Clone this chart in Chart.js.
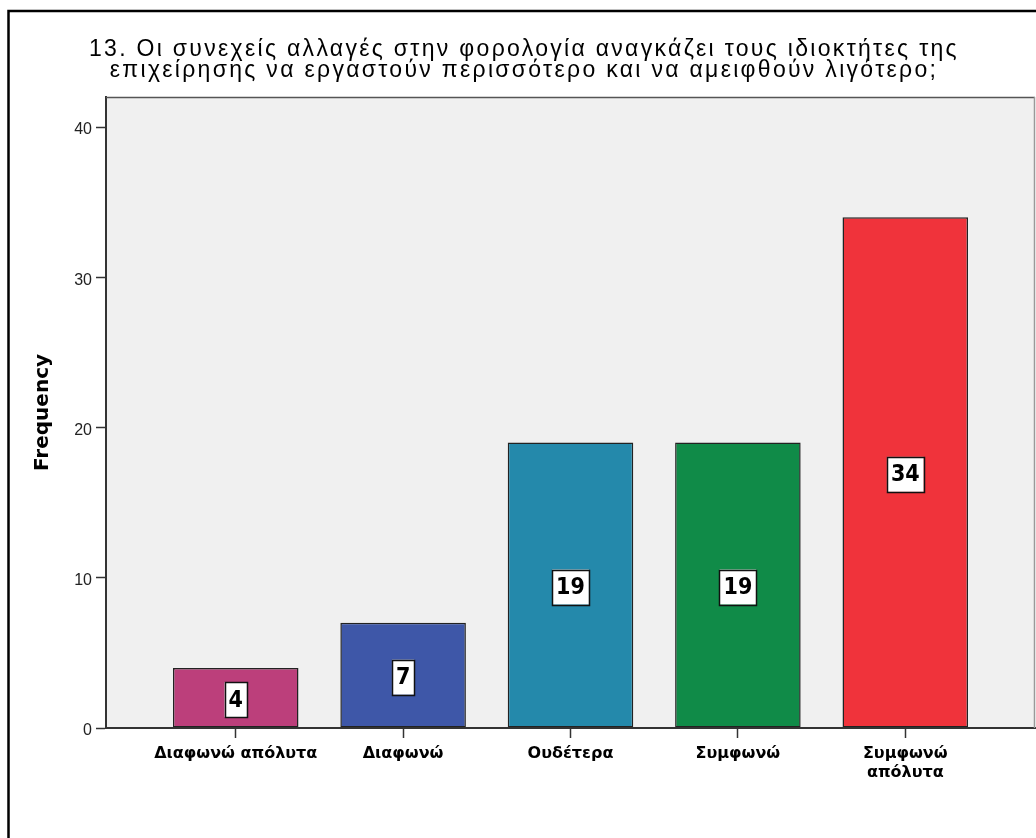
<!DOCTYPE html>
<html lang="el">
<head>
<meta charset="utf-8">
<title>Frequency</title>
<script src="https://cdn.jsdelivr.net/npm/chart.js@4.4.1/dist/chart.umd.min.js"></script>
<style>
  html, body { margin: 0; padding: 0; background: #fff; }
  #wrap { width: 1036px; height: 838px; }
</style>
</head>
<body>
<div id="wrap"><canvas id="freqChart" width="1036" height="838"></canvas></div>
<script>
// κατηγορίες απαντήσεων και συχνότητες
const categories = ['Διαφωνώ απόλυτα', 'Διαφωνώ', 'Ουδέτερα', 'Συμφωνώ', 'Συμφωνώ απόλυτα'];
const tickLabels = [['Διαφωνώ απόλυτα'], ['Διαφωνώ'], ['Ουδέτερα'], ['Συμφωνώ'], ['Συμφωνώ', 'απόλυτα']];
const frequencies = [4, 7, 19, 19, 34];
const barColors = ['#bc3f7b', '#3e57a8', '#2489ab', '#108b48', '#f0333b'];
const yTicks = [0, 10, 20, 30, 40];
const titleLines = [
    '13. Οι συνεχείς αλλαγές στην φορολογία αναγκάζει τους ιδιοκτήτες της',
    'επιχείρησης να εργαστούν περισσότερο και να αμειφθούν λιγότερο;'
];

const FONT = '"Liberation Sans", Arial, sans-serif';
const WIDE = '"DejaVu Sans", Verdana, sans-serif';
const NARROW = '"Liberation Sans Narrow", "DejaVu Sans Condensed", sans-serif';

// γκρι φόντο περιοχής γραφήματος + πλαίσιο
const framePlugin = {
    id: 'frame',
    beforeDraw(chart) {
        const ctx = chart.ctx;
        const a = chart.chartArea;
        ctx.save();
        ctx.fillStyle = '#fff';
        ctx.fillRect(0, 0, chart.width, chart.height);
        ctx.fillStyle = '#f0f0f0';
        ctx.fillRect(a.left, a.top, a.right - a.left, a.bottom - a.top);
        // εξωτερικό πλαίσιο (αριστερά και πάνω)
        ctx.strokeStyle = '#000';
        ctx.lineWidth = 2.5;
        ctx.beginPath();
        ctx.moveTo(8.5, chart.height);
        ctx.lineTo(8.5, 11);
        ctx.lineTo(chart.width, 11);
        ctx.stroke();
        ctx.restore();
        // ο τίτλος σχεδιάζεται πριν τις μπάρες, με αραιά γράμματα
        ctx.letterSpacing = '2.3px';
    },
    beforeDatasetsDraw(chart) {
        chart.ctx.letterSpacing = '0px';
    },
    afterDraw(chart) {
        const ctx = chart.ctx;
        const a = chart.chartArea;
        ctx.save();
        ctx.lineWidth = 1.5;
        ctx.strokeStyle = '#555';
        ctx.beginPath();
        ctx.moveTo(a.left, a.top + 0.5);
        ctx.lineTo(a.right, a.top + 0.5);
        ctx.stroke();
        ctx.strokeStyle = '#999';
        ctx.beginPath();
        ctx.moveTo(a.right - 0.5, a.top);
        ctx.lineTo(a.right - 0.5, a.bottom);
        ctx.stroke();
        ctx.restore();
    }
};

// κουτάκια με την τιμή στη μέση κάθε μπάρας
const valueBoxPlugin = {
    id: 'valueBoxes',
    afterDatasetsDraw(chart) {
        const ctx = chart.ctx;
        const meta = chart.getDatasetMeta(0);
        ctx.save();
        ctx.font = 'bold 23px ' + NARROW;
        ctx.textAlign = 'center';
        ctx.textBaseline = 'middle';
        meta.data.forEach(function(bar, i) {
            const text = String(frequencies[i]);
            const w = ctx.measureText(text).width + 8;
            const h = 35;
            const cx = bar.x;
            const cy = (bar.y + bar.base) / 2 + 2;
            ctx.fillStyle = '#fff';
            ctx.fillRect(cx - w / 2, cy - h / 2, w, h);
            ctx.strokeStyle = '#111';
            ctx.lineWidth = 1.5;
            ctx.strokeRect(Math.round(cx - w / 2) + 0.5, Math.round(cy - h / 2) + 0.5, Math.round(w), h);
            ctx.fillStyle = '#000';
            ctx.fillText(text, cx, cy + 1);
        });
        ctx.restore();
    }
};

const ctx = document.getElementById('freqChart').getContext('2d');
const chart = new Chart(ctx, {
    type: 'bar',
    data: {
        datasets: [{
            label: 'Frequency',
            data: frequencies.map(function(v, i) { return { x: i, y: v }; }),
            backgroundColor: barColors,
            borderColor: '#222',
            borderWidth: 1.5,
            borderSkipped: false,
            barPercentage: 0.75,
            categoryPercentage: 1
        }]
    },
    options: {
        responsive: false,
        animation: false,
        layout: { padding: { left: 13, right: 1 } },
        plugins: {
            legend: { display: false },
            tooltip: { enabled: false },
            title: {
                display: true,
                text: titleLines,
                color: '#000',
                font: { family: FONT, size: 23, weight: 'normal', lineHeight: '21px' },
                padding: { top: 39, bottom: 16 }
            }
        },
        scales: {
            x: {
                type: 'linear',
                offset: false,
                min: -0.775,
                max: 4.775,
                afterBuildTicks: function(scale) {
                    scale.ticks = categories.map(function(c, i) { return { value: i }; });
                },
                afterFit: function(scale) { scale.height = 110; },
                ticks: {
                    z: 1,
                    autoSkip: false,
                    maxRotation: 0,
                    color: '#000',
                    padding: 6,
                    font: { family: WIDE, size: 16, weight: 'bold', lineHeight: 1.2 },
                    callback: function(value) { return tickLabels[value]; }
                },
                grid: {
                    offset: false,
                    drawOnChartArea: false,
                    drawTicks: true,
                    tickLength: 10,
                    tickColor: '#333',
                    tickWidth: 1.5
                },
                border: { display: true, color: '#333', width: 2, z: 1 }
            },
            y: {
                min: 0,
                max: 42,
                afterBuildTicks: function(scale) {
                    scale.ticks = yTicks.map(function(v) { return { value: v }; });
                },
                afterFit: function(scale) { scale.width = 93; },
                ticks: {
                    z: 1,
                    color: '#222',
                    padding: 4,
                    labelOffset: 3,
                    font: { family: FONT, size: 16 }
                },
                grid: {
                    z: 1,
                    drawOnChartArea: false,
                    drawTicks: true,
                    tickLength: 10,
                    tickColor: '#333',
                    tickWidth: 1.5
                },
                border: { display: true, color: '#333', width: 2, z: 1 },
                title: {
                    display: true,
                    text: 'Frequency',
                    color: '#000',
                    font: { family: WIDE, size: 20, weight: 'bold' },
                    padding: { top: 17.5, bottom: 0 }
                }
            }
        }
    },
    plugins: [framePlugin, valueBoxPlugin]
});
</script>
</body>
</html>
